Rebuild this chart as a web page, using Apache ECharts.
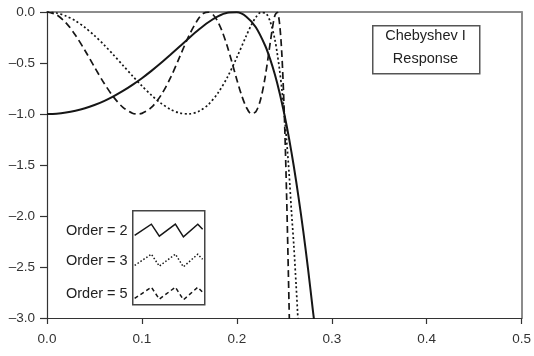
<!DOCTYPE html>
<html>
<head>
<meta charset="utf-8">
<script src="https://cdn.jsdelivr.net/npm/echarts@6/dist/echarts.min.js"></script>
<style>
html,body{margin:0;padding:0;background:#fff;}
#chart{width:534px;height:356px;}
</style>
</head>
<body>
<div id="chart"></div>
<script>
// Normalized frequency (x) and gain in dB (y)
var order2X = [0,0.01,0.02,0.03,0.04,0.05,0.06,0.07,0.08,0.09,0.10,0.11,0.12,0.13,0.14,0.15,0.16,0.17,0.18,0.19,0.20,0.21,0.22,0.23,0.235,0.24,0.245,0.25,0.255,0.26,0.265,0.27,0.275,0.28,0.2815];
var order2Y = [-1.000,-0.997,-0.986,-0.968,-0.944,-0.912,-0.873,-0.827,-0.774,-0.714,-0.649,-0.577,-0.500,-0.419,-0.336,-0.252,-0.172,-0.100,-0.042,-0.007,-0.003,-0.046,-0.150,-0.333,-0.460,-0.611,-0.791,-1.000,-1.240,-1.512,-1.817,-2.151,-2.518,-2.917,-3.03];

var order3X = [0,0.01,0.02,0.03,0.04,0.05,0.06,0.07,0.08,0.09,0.10,0.11,0.12,0.13,0.14,0.15,0.16,0.17,0.18,0.19,0.20,0.21,0.215,0.22,0.225,0.23,0.235,0.24,0.2425,0.245,0.2475,0.25,0.2525,0.255,0.2575,0.26,0.2625,0.265];
var order3Y = [0,-0.010,-0.039,-0.087,-0.152,-0.231,-0.321,-0.420,-0.523,-0.626,-0.725,-0.816,-0.894,-0.954,-0.991,-0.999,-0.973,-0.907,-0.796,-0.640,-0.445,-0.232,-0.132,-0.053,-0.006,-0.010,-0.090,-0.267,-0.403,-0.566,-0.765,-1.000,-1.270,-1.575,-1.950,-2.286,-2.687,-3.121];

var order5X = [0,0.01,0.02,0.03,0.04,0.05,0.06,0.07,0.08,0.09,0.095,0.10,0.11,0.12,0.13,0.14,0.15,0.16,0.165,0.17,0.175,0.18,0.185,0.19,0.195,0.20,0.205,0.21,0.215,0.22,0.225,0.23,0.235,0.2375,0.24,0.2425,0.245,0.2475,0.25,0.2525,0.255,0.2555];
var order5Y = [0,-0.027,-0.106,-0.228,-0.377,-0.539,-0.696,-0.832,-0.935,-0.992,-1.000,-0.994,-0.936,-0.817,-0.647,-0.435,-0.223,-0.059,-0.013,-0.001,-0.027,-0.095,-0.201,-0.339,-0.498,-0.664,-0.816,-0.934,-0.996,-0.978,-0.858,-0.628,-0.311,-0.157,-0.037,-0.003,-0.113,-0.430,-1.000,-1.828,-2.876,-3.11];

var seriesNames = ['Order = 2', 'Order = 3', 'Order = 5'];
var xTickValues = [0, 0.1, 0.2, 0.3, 0.4, 0.5];
var xTickLabels = ['0.0', '0.1', '0.2', '0.3', '0.4', '0.5'];
var yTickValues = [-3, -2.5, -2, -1.5, -1, -0.5, 0];
var yTickLabels = ['\u20133.0', '\u20132.5', '\u20132.0', '\u20131.5', '\u20131.0', '\u20130.5', '0.0'];
var titleLines = ['Chebyshev I', 'Response'];

function pairs(xs, ys) {
  var out = [];
  for (var i = 0; i < xs.length; i++) out.push([xs[i], ys[i]]);
  return out;
}
function labelFor(values, labels) {
  return function (v) {
    for (var i = 0; i < values.length; i++) {
      if (Math.abs(values[i] - v) < 1e-9) return labels[i];
    }
    return '';
  };
}

var FONT = '"Liberation Sans", Arial, Helvetica, sans-serif';
var INK = '#161616';
var zig = 'path://M0,11.6L17.2,0L25.4,12.3L41.9,0L50.2,13L65,0L70,5.3';

function legendAt(name, top, dash) {
  return {
    data: [name],
    orient: 'vertical',
    left: 66,
    top: top,
    padding: 0,
    align: 'right',
    selectedMode: false,
    itemWidth: 68,
    itemHeight: 13,
    icon: zig,
    itemStyle: {
      color: 'rgba(0,0,0,0)',
      borderColor: INK,
      borderWidth: 1.5,
      borderType: dash
    },
    textStyle: { fontFamily: FONT, fontSize: 14.5, color: '#222', padding: [0, 2, 0, 0] }
  };
}

var chart = echarts.init(document.getElementById('chart'), null, { renderer: 'canvas' });
chart.setOption({
  backgroundColor: '#ffffff',
  animation: false,
  grid: { left: 47, right: 10, top: 12, bottom: 38 },
  xAxis: [{
    type: 'value', min: 0, max: 0.5, interval: 0.1,
    axisLine: { show: true, onZero: false, lineStyle: { color: '#333', width: 1.2 } },
    axisTick: { show: true, inside: false, length: 6, lineStyle: { color: '#333', width: 1.2 } },
    axisLabel: { margin: 14, fontFamily: FONT, fontSize: 13.5, color: '#333',
      formatter: labelFor(xTickValues, xTickLabels) },
    splitLine: { show: false }
  }, {
    type: 'value', position: 'top', min: 0, max: 0.5,
    axisLine: { show: true, lineStyle: { color: '#8c8c8c', width: 2 } },
    axisTick: { show: false }, axisLabel: { show: false }, splitLine: { show: false }
  }],
  yAxis: [{
    type: 'value', min: -3, max: 0, interval: 0.5,
    axisLine: { show: true, onZero: false, lineStyle: { color: '#333', width: 1.2 } },
    axisTick: { show: true, inside: false, length: 7, lineStyle: { color: '#333', width: 1.2 } },
    axisLabel: { margin: 12, fontFamily: FONT, fontSize: 13.5, color: '#333',
      formatter: labelFor(yTickValues, yTickLabels) },
    splitLine: { show: false }
  }, {
    type: 'value', position: 'right', min: -3, max: 0,
    axisLine: { show: true, onZero: false, lineStyle: { color: '#8c8c8c', width: 2 } },
    axisTick: { show: false }, axisLabel: { show: false }, splitLine: { show: false }
  }],
  legend: [
    legendAt(seriesNames[0], 223, 'solid'),
    legendAt(seriesNames[1], 253, [1.5, 2]),
    legendAt(seriesNames[2], 286, [4, 3])
  ],
  graphic: [
    {
      type: 'rect', left: 132, top: 210, z: 1,
      shape: { width: 72, height: 94 },
      style: { fill: 'rgba(0,0,0,0)', stroke: '#444', lineWidth: 1.5 }
    },
    {
      type: 'rect', left: 372, top: 25, z: 1,
      shape: { width: 107, height: 48 },
      style: { fill: '#fff', stroke: '#555', lineWidth: 1.5 }
    },
    {
      type: 'text', x: 425.5, y: 36, z: 2,
      style: { text: titleLines[0], fontFamily: FONT, fontSize: 14.5, fill: '#222', align: 'center', verticalAlign: 'middle' }
    },
    {
      type: 'text', x: 425.5, y: 59, z: 2,
      style: { text: titleLines[1], fontFamily: FONT, fontSize: 14.5, fill: '#222', align: 'center', verticalAlign: 'middle' }
    }
  ],
  series: [
    {
      name: seriesNames[0], type: 'line', xAxisIndex: 0, yAxisIndex: 0,
      data: pairs(order2X, order2Y), showSymbol: false, symbol: 'none', smooth: 0.3, clip: true,
      lineStyle: { color: INK, width: 2, type: 'solid' }, itemStyle: { color: INK }, z: 3
    },
    {
      name: seriesNames[1], type: 'line', xAxisIndex: 0, yAxisIndex: 0,
      data: pairs(order3X, order3Y), showSymbol: false, symbol: 'none', smooth: 0.3, clip: true,
      lineStyle: { color: INK, width: 1.7, type: [2, 2.5] }, itemStyle: { color: INK }, z: 3
    },
    {
      name: seriesNames[2], type: 'line', xAxisIndex: 0, yAxisIndex: 0,
      data: pairs(order5X, order5Y), showSymbol: false, symbol: 'none', smooth: 0.3, clip: true,
      lineStyle: { color: INK, width: 1.7, type: [7, 4] }, itemStyle: { color: INK }, z: 3
    }
  ]
});
</script>
</body>
</html>
